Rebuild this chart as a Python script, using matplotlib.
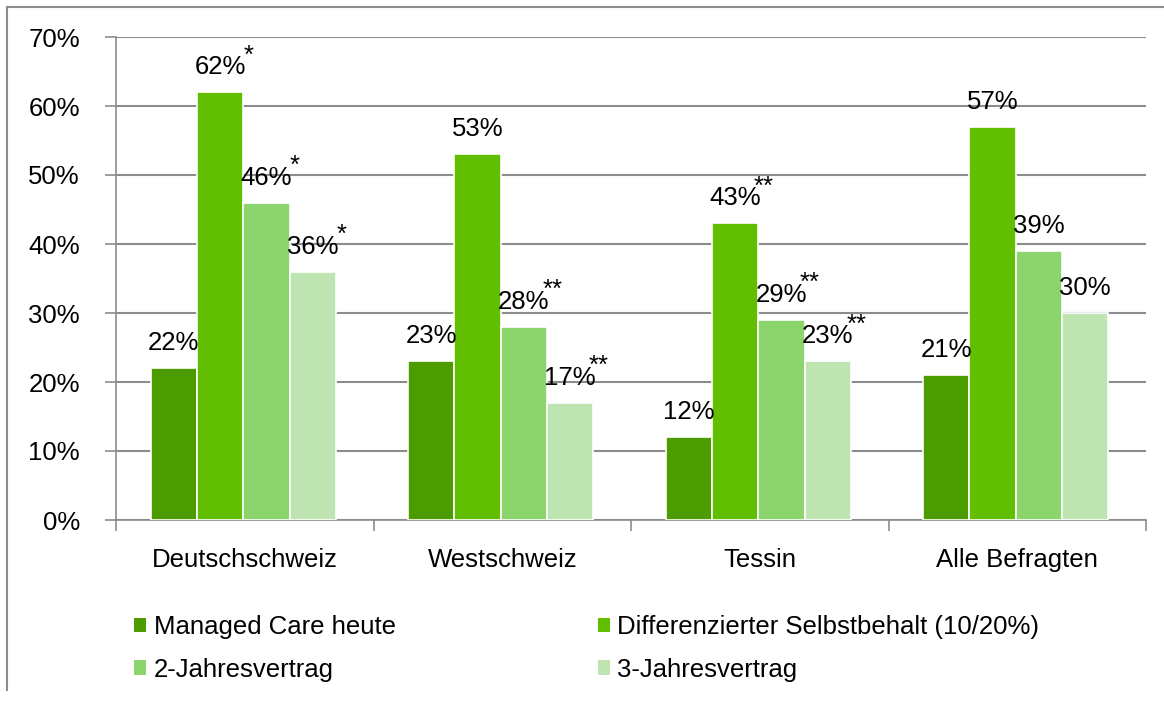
import matplotlib
matplotlib.use("Agg")
import matplotlib.pyplot as plt
import numpy as np
from matplotlib.patches import Patch
from matplotlib.lines import Line2D

categories = ["Deutschschweiz", "Westschweiz", "Tessin", "Alle Befragten"]
series_names = ["Managed Care heute", "Differenzierter Selbstbehalt (10/20%)",
                "2-Jahresvertrag", "3-Jahresvertrag"]
managed_care = [22, 23, 12, 21]
selbstbehalt = [62, 53, 43, 57]
jahres2 = [46, 28, 29, 39]
jahres3 = [36, 17, 23, 30]
stars_mc = ["", "", "", ""]
stars_sb = ["*", "", "**", ""]
stars_j2 = ["*", "**", "**", ""]
stars_j3 = ["*", "**", "**", ""]
yticks = [0, 10, 20, 30, 40, 50, 60, 70]

colors = ["#4C9C00", "#62BE00", "#8CD46C", "#BDE4B1"]
series = [managed_care, selbstbehalt, jahres2, jahres3]
stars = [stars_mc, stars_sb, stars_j2, stars_j3]

plt.rcParams['font.family'] = ['Liberation Sans', 'DejaVu Sans']
FS = 18.5

fig = plt.figure(figsize=(11.64, 7.01), dpi=100)
ax = fig.add_axes([116/1164, 1-520/701, (1146-116)/1164, (520-37)/701])

x = np.arange(len(categories))
w = 0.18
offsets = (np.arange(4) - 1.5) * w
for i, (vals, col, st) in enumerate(zip(series, colors, stars)):
    bars = ax.bar(x + offsets[i] - 0.006, vals, width=w, color=col, edgecolor="white",
                  linewidth=1.2, zorder=3)
    for b, v, s in zip(bars, vals, st):
        cx = b.get_x() + b.get_width() / 2
        ax.annotate(f"{v}%", (cx, v), xytext=(0, 18), textcoords="offset points",
                    ha="center", va="center", fontsize=FS, zorder=5)
        if s:
            ax.annotate(s, (cx, v), xytext=(20.5, 26.5), textcoords="offset points",
                        ha="center", va="center", fontsize=FS, zorder=5)

ax.set_xlim(-0.5, 3.5)
ax.set_ylim(0, 70)
ax.set_yticks(yticks)
ax.set_yticklabels([f"{t}%" for t in yticks], fontsize=FS)
ax.yaxis.grid(True, color="#8C8C8C", linewidth=1.5, zorder=0)
ax.set_axisbelow(True)
ax.set_xticks(np.arange(-0.5, 4.0, 1.0))
ax.set_xticklabels([])
ax.set_xticks(x, minor=True)
ax.set_xticklabels(categories, minor=True, fontsize=FS)
ax.tick_params(axis="x", which="minor", length=0, pad=20)
ax.tick_params(axis="x", which="major", length=8, color="#8C8C8C", width=1.2)
ax.tick_params(axis="y", length=8, color="#8C8C8C", width=1.2, pad=18)
for sp in ["top", "right"]:
    ax.spines[sp].set_visible(False)
ax.spines["left"].set_color("#8C8C8C")
ax.spines["bottom"].set_color("#8C8C8C")
ax.spines["left"].set_linewidth(1.2)
ax.spines["bottom"].set_linewidth(1.2)

# legend laid out row by row (matplotlib fills columns first)
order = [0, 2, 1, 3]
handles = [Patch(facecolor=colors[k], edgecolor="none") for k in order]
labels = [series_names[k] for k in order]
fig.legend(handles, labels, ncol=2, loc="upper left",
           bbox_to_anchor=(111/1164, 1-592/701), frameon=False, fontsize=FS,
           handlelength=0.47, handleheight=0.47, handletextpad=0.3,
           columnspacing=7.85, labelspacing=0.72)

# outer frame (top and left edges visible)
fig.add_artist(Line2D([7/1164, 1.0], [1-7/701, 1-7/701], color="#8C8C8C", linewidth=1.5,
                      transform=fig.transFigure))
fig.add_artist(Line2D([7/1164, 7/1164], [1-7/701, 1-690/701], color="#8C8C8C", linewidth=1.5,
                      transform=fig.transFigure))

fig.savefig("out.png", dpi=100)
